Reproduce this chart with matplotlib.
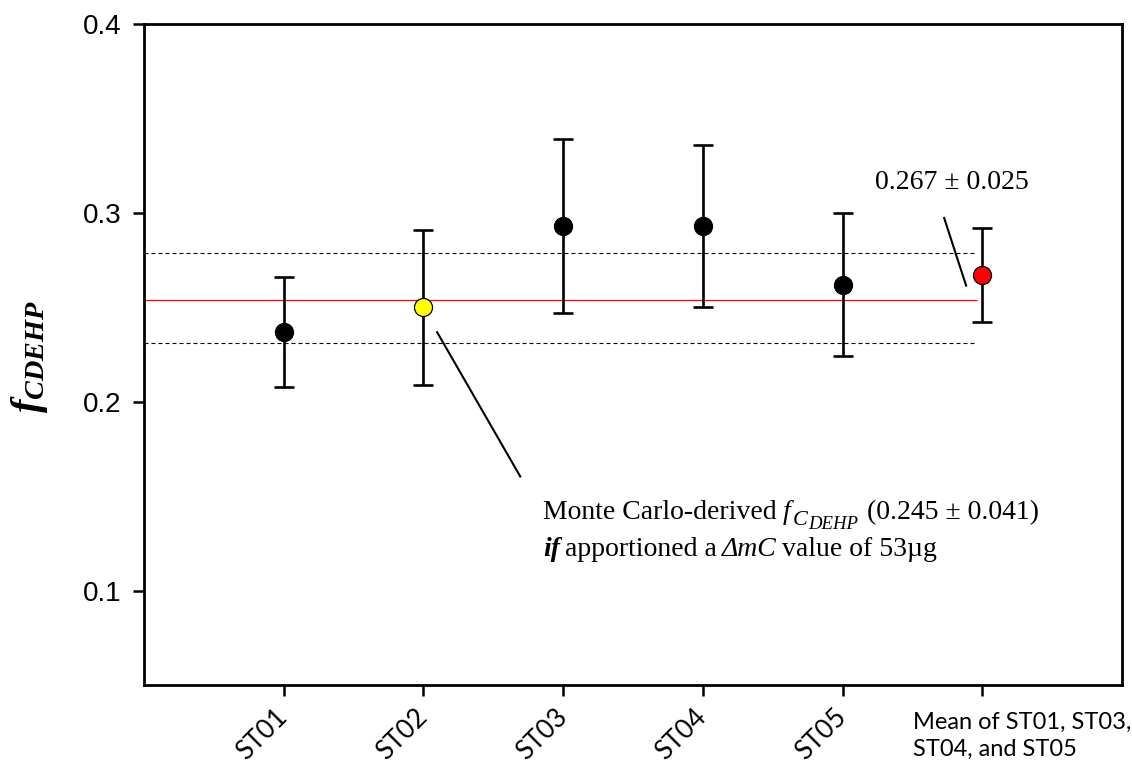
import numpy as np
import matplotlib
matplotlib.use('Agg')
import matplotlib.pyplot as plt

# --- 数据 ---
sites = ['ST01', 'ST02', 'ST03', 'ST04', 'ST05']
mean_label = 'Mean of ST01, ST03,\nST04, and ST05'
f_val = [0.237, 0.250, 0.293, 0.293, 0.262, 0.267]
f_upper = [0.266, 0.291, 0.339, 0.336, 0.300, 0.292]
f_lower = [0.208, 0.209, 0.247, 0.250, 0.224, 0.242]
face_colors = ['black', 'yellow', 'black', 'black', 'black', 'red']

ref_mean = 0.254
ref_high = 0.279
ref_low = 0.231
ref_span = (0.0, 5.96)

mean_text = '0.267 \u00b1 0.025'

# 注释文字分段：(文字, 字号, 样式, 粗细, 垂直偏移px, 后续间距px)
mc_line1 = [
    ('Monte Carlo-derived', 20, 'normal', 'normal', 0, 6),
    ('f', 20, 'italic', 'normal', 0, 2),
    ('C', 16, 'italic', 'normal', -6, 1),
    ('DEHP', 13.5, 'italic', 'normal', -10, 8),
    ('(0.245 \u00b1 0.041)', 20, 'normal', 'normal', 0, 0),
]
mc_line2 = [
    ('if', 20, 'italic', 'bold', 0, 5),
    ('apportioned a', 20, 'normal', 'normal', 0, 5),
    ('\u0394mC', 20, 'italic', 'normal', 0, 5),
    ('value of 53\u00b5g', 20, 'normal', 'normal', 0, 0),
]

plt.rcParams['mathtext.fontset'] = 'custom'
plt.rcParams['mathtext.rm'] = 'Liberation Serif'
plt.rcParams['mathtext.it'] = 'Liberation Serif:italic'
plt.rcParams['mathtext.bf'] = 'Liberation Serif:italic:bold'

fig = plt.figure(figsize=(11.32, 7.65), dpi=100)
ax = fig.add_axes([0.1272, 0.1046, 0.9912 - 0.1272, 0.9686 - 0.1046])
renderer = fig.canvas.get_renderer()


def draw_pieces(x0, y0, pieces):
    # 逐段绘制混合字体的文字，按实际宽度依次排开
    offset = 0
    for s, size, style, weight, dy, gap in pieces:
        t = ax.annotate(s, xy=(x0, y0), xycoords='data', xytext=(offset, dy),
                        textcoords='offset pixels', fontfamily='Liberation Serif',
                        fontsize=size, fontstyle=style, fontweight=weight,
                        ha='left', va='baseline')
        offset += t.get_window_extent(renderer).width + gap


x = np.arange(1, len(f_val) + 1)
yerr = [np.array(f_val) - np.array(f_lower), np.array(f_upper) - np.array(f_val)]

# 参考线：均值与上下限
ax.hlines(ref_mean, *ref_span, color='red', lw=0.9, zorder=1)
ax.hlines([ref_high, ref_low], *ref_span, color='black', lw=0.8,
          linestyles=(0, (3.6, 2.7)), zorder=1)

ax.errorbar(x, f_val, yerr=yerr, fmt='none', ecolor='black', elinewidth=1.9,
            capsize=7.5, capthick=1.9, zorder=2)
for xi, yi, fc in zip(x, f_val, face_colors):
    ax.plot(xi, yi, 'o', ms=13, mfc=fc, mec='black', mew=0.9, zorder=3)

ax.set_xlim(0, 7)
ax.set_ylim(0.05, 0.4)
ax.set_yticks([0.1, 0.2, 0.3, 0.4])
ax.set_yticklabels(['0.1', '0.2', '0.3', '0.4'], fontfamily='Liberation Sans', fontsize=20)
ax.set_xticks(x)
ax.set_xticklabels(sites + [''], fontfamily='Lato', fontsize=19, rotation=45,
                   ha='right', va='center', rotation_mode='anchor')
ax.tick_params(axis='both', direction='out', length=8, width=1.8, color='black')
ax.tick_params(axis='y', pad=8)
ax.tick_params(axis='x', pad=12)
for sp in ax.spines.values():
    sp.set_linewidth(2)

# 均值的类别标签（水平两行）
ax.annotate(mean_label, xy=(6, 0), xycoords=('data', 'axes fraction'),
            xytext=(-69, -27), textcoords='offset pixels', ha='left', va='top',
            fontfamily='Lato', fontsize=17, linespacing=1.35)

# y 轴标签
fig.text(30 / 1132, 1 - 356 / 765, r'$\mathbf{f}_{\mathbf{CDEHP}}$', rotation=90,
         ha='center', va='center', fontsize=29)

# 注释
ax.text(5.231, 0.3128, mean_text, fontfamily='Liberation Serif', fontsize=20,
        ha='left', va='baseline')
ax.plot([5.727, 5.884], [0.2973, 0.2615], color='black', lw=1.5)

ax.plot([2.098, 2.693], [0.2368, 0.1604], color='black', lw=1.5)
draw_pieces(2.859, 0.1378, mc_line1)
draw_pieces(2.859, 0.1183, mc_line2)

fig.savefig('out.png', dpi=100)
